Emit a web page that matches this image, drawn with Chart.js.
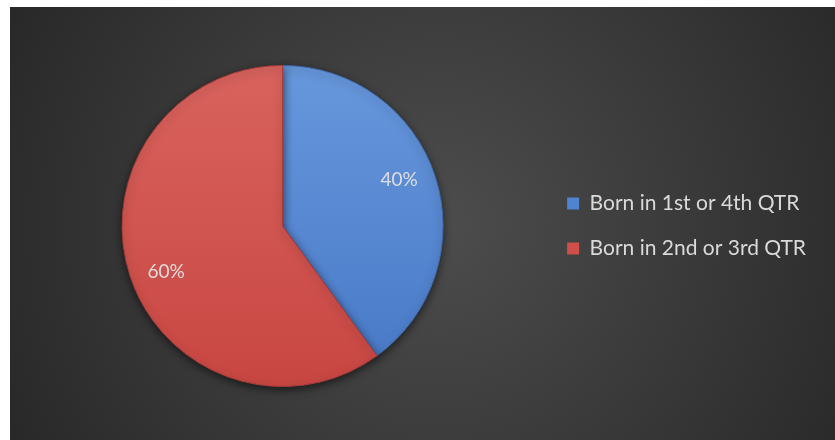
<!DOCTYPE html>
<html>
<head>
<meta charset="utf-8">
<script src="https://cdn.jsdelivr.net/npm/chart.js@4/dist/chart.umd.min.js"></script>
<style>
  html, body { margin: 0; padding: 0; background: #ffffff; }
  #wrap { position: absolute; left: 10px; top: 7px; width: 825px; height: 433px; }
</style>
</head>
<body>
<div id="wrap"><canvas id="quarters"></canvas></div>
<script>
// Birth quarter split
const categories = ['Born in 1st or 4th QTR', 'Born in 2nd or 3rd QTR'];
const shares = [40, 60];
const sliceTop = ['#6797dc', '#d9635e'];
const sliceBottom = ['#4778c6', '#c84642'];
const legendFill = ['#4f84d0', '#cf4f4b'];

// dark radial backdrop behind everything
const backdrop = {
  id: 'backdrop',
  beforeDraw(chart) {
    const { ctx, width, height } = chart;
    const g = ctx.createRadialGradient(width * 0.52, height * 0.5, 10, width * 0.52, height * 0.5, width * 0.62);
    g.addColorStop(0, '#4c4c4c');
    g.addColorStop(1, '#262626');
    ctx.save();
    ctx.fillStyle = g;
    ctx.fillRect(0, 0, width, height);
    ctx.restore();
  }
};

// soft drop shadow under the pie
const pieShadow = {
  id: 'pieShadow',
  beforeDatasetsDraw(chart) {
    const ctx = chart.ctx;
    ctx.save();
    ctx.shadowColor = 'rgba(0,0,0,0.55)';
    ctx.shadowBlur = 8;
    ctx.shadowOffsetY = 3;
  },
  afterDatasetsDraw(chart) {
    chart.ctx.restore();
  }
};

// percentage text inside each slice, nudged a little counter-clockwise
const sliceLabels = {
  id: 'sliceLabels',
  afterDatasetsDraw(chart) {
    const ctx = chart.ctx;
    const meta = chart.getDatasetMeta(0);
    ctx.save();
    ctx.font = '19px Lato, sans-serif';
    ctx.fillStyle = '#dedede';
    ctx.textAlign = 'center';
    ctx.textBaseline = 'middle';
    meta.data.forEach((arc, i) => {
      const p = arc.getProps(['x', 'y', 'startAngle', 'endAngle', 'outerRadius']);
      const mid = (p.startAngle + p.endAngle) / 2 - 0.06;
      const r = p.outerRadius * 0.78;
      ctx.fillText(shares[i] + '%', p.x + Math.cos(mid) * r, p.y + Math.sin(mid) * r);
    });
    ctx.restore();
  }
};

function sliceGradient(context) {
  const chart = context.chart;
  const area = chart.chartArea;
  if (!area) return sliceTop[context.dataIndex];
  const g = chart.ctx.createLinearGradient(0, area.top, 0, area.bottom);
  g.addColorStop(0, sliceTop[context.dataIndex]);
  g.addColorStop(1, sliceBottom[context.dataIndex]);
  return g;
}

new Chart(document.getElementById('quarters'), {
  type: 'pie',
  data: {
    labels: categories,
    datasets: [{
      data: shares,
      backgroundColor: sliceGradient,
      borderColor: ['#3e6bb0', '#a83c39'],
      borderWidth: 1
    }]
  },
  options: {
    responsive: true,
    maintainAspectRatio: false,
    animation: false,
    layout: { padding: { top: 58, bottom: 53, left: 12, right: 19 } },
    plugins: {
      tooltip: { enabled: false },
      legend: {
        position: 'right',
        labels: {
          color: '#dadada',
          font: { family: 'Lato, sans-serif', size: 21 },
          boxWidth: 12,
          boxHeight: 12,
          padding: 24,
          generateLabels(chart) {
            return categories.map((c, i) => ({
              text: c,
              fillStyle: legendFill[i],
              strokeStyle: '#2a2a2a',
              fontColor: '#dadada',
              lineWidth: 0,
              index: i
            }));
          }
        }
      }
    }
  },
  plugins: [backdrop, pieShadow, sliceLabels]
});
</script>
</body>
</html>
